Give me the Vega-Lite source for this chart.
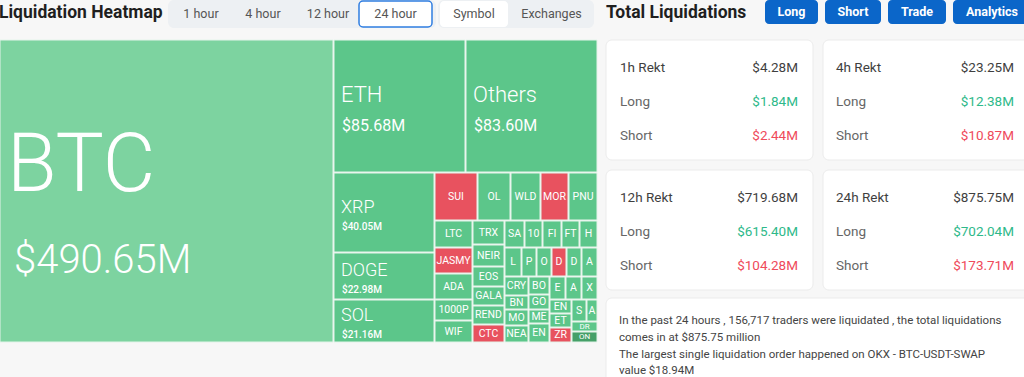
{
  "$schema": "https://vega.github.io/schema/vega-lite/v6.json",
  "width": 1024,
  "height": 377,
  "autosize": {"type": "none"},
  "padding": 0,
  "background": "#f7f7f7",
  "config": {"view": {"stroke": null}, "font": "Roboto"},
  "datasets": {
    "tiles": [
      {"sym": "BTC", "val": "$490.65M", "tone": "light", "cls": "btc", "x0": 0, "x1": 333, "y0": 40, "y1": 342},
      {"sym": "ETH", "val": "$85.68M", "tone": "green", "cls": "mid", "x0": 334, "x1": 465, "y0": 40, "y1": 172},
      {"sym": "Others", "val": "$83.60M", "tone": "green", "cls": "mid", "x0": 466, "x1": 597, "y0": 40, "y1": 172},
      {"sym": "XRP", "val": "$40.05M", "tone": "green", "cls": "lg", "x0": 334, "x1": 434, "y0": 173, "y1": 252},
      {"sym": "DOGE", "val": "$22.98M", "tone": "green", "cls": "lg", "x0": 334, "x1": 434, "y0": 253, "y1": 299},
      {"sym": "SOL", "val": "$21.16M", "tone": "green", "cls": "lg", "x0": 334, "x1": 434, "y0": 300, "y1": 342},
      {"sym": "SUI", "val": "", "tone": "red", "cls": "sm", "x0": 435, "x1": 477, "y0": 173, "y1": 220},
      {"sym": "OL", "val": "", "tone": "green", "cls": "sm", "x0": 478, "x1": 510, "y0": 173, "y1": 220},
      {"sym": "WLD", "val": "", "tone": "green", "cls": "sm", "x0": 511, "x1": 540, "y0": 173, "y1": 220},
      {"sym": "MOR", "val": "", "tone": "red", "cls": "sm", "x0": 541, "x1": 568, "y0": 173, "y1": 220},
      {"sym": "PNU", "val": "", "tone": "green", "cls": "sm", "x0": 569, "x1": 597, "y0": 173, "y1": 220},
      {"sym": "LTC", "val": "", "tone": "green", "cls": "sm", "x0": 435, "x1": 472, "y0": 221, "y1": 247},
      {"sym": "JASMY", "val": "", "tone": "red", "cls": "sm", "x0": 435, "x1": 472, "y0": 248, "y1": 273},
      {"sym": "ADA", "val": "", "tone": "green", "cls": "sm", "x0": 435, "x1": 472, "y0": 274, "y1": 299},
      {"sym": "1000P", "val": "", "tone": "green", "cls": "sm", "x0": 435, "x1": 472, "y0": 300, "y1": 320},
      {"sym": "WIF", "val": "", "tone": "green", "cls": "sm", "x0": 435, "x1": 472, "y0": 321, "y1": 342},
      {"sym": "TRX", "val": "", "tone": "green", "cls": "sm", "x0": 473, "x1": 504, "y0": 221, "y1": 244},
      {"sym": "NEIR", "val": "", "tone": "green", "cls": "sm", "x0": 473, "x1": 504, "y0": 245, "y1": 266},
      {"sym": "EOS", "val": "", "tone": "green", "cls": "sm", "x0": 473, "x1": 504, "y0": 267, "y1": 286},
      {"sym": "GALA", "val": "", "tone": "green", "cls": "sm", "x0": 473, "x1": 504, "y0": 287, "y1": 305},
      {"sym": "REND", "val": "", "tone": "green", "cls": "sm", "x0": 473, "x1": 504, "y0": 306, "y1": 324},
      {"sym": "CTC", "val": "", "tone": "red", "cls": "sm", "x0": 473, "x1": 504, "y0": 325, "y1": 342},
      {"sym": "SA", "val": "", "tone": "green", "cls": "sm", "x0": 505, "x1": 524, "y0": 221, "y1": 247},
      {"sym": "10", "val": "", "tone": "green", "cls": "sm", "x0": 525, "x1": 542, "y0": 221, "y1": 247},
      {"sym": "FI", "val": "", "tone": "green", "cls": "sm", "x0": 543, "x1": 561, "y0": 221, "y1": 247},
      {"sym": "FT", "val": "", "tone": "green", "cls": "sm", "x0": 562, "x1": 579, "y0": 221, "y1": 247},
      {"sym": "H", "val": "", "tone": "green", "cls": "sm", "x0": 580, "x1": 597, "y0": 221, "y1": 247},
      {"sym": "L", "val": "", "tone": "green", "cls": "sm", "x0": 505, "x1": 521, "y0": 248, "y1": 276},
      {"sym": "P", "val": "", "tone": "green", "cls": "sm", "x0": 522, "x1": 536, "y0": 248, "y1": 276},
      {"sym": "O", "val": "", "tone": "green", "cls": "sm", "x0": 537, "x1": 551, "y0": 248, "y1": 276},
      {"sym": "D", "val": "", "tone": "red", "cls": "sm", "x0": 552, "x1": 566, "y0": 248, "y1": 276},
      {"sym": "D", "val": "", "tone": "green", "cls": "sm", "x0": 567, "x1": 581, "y0": 248, "y1": 276},
      {"sym": "A", "val": "", "tone": "green", "cls": "sm", "x0": 582, "x1": 597, "y0": 248, "y1": 276},
      {"sym": "CRY", "val": "", "tone": "green", "cls": "sm", "x0": 505, "x1": 528, "y0": 277, "y1": 295},
      {"sym": "BN", "val": "", "tone": "green", "cls": "sm", "x0": 505, "x1": 528, "y0": 296, "y1": 309},
      {"sym": "MO", "val": "", "tone": "green", "cls": "sm", "x0": 505, "x1": 528, "y0": 310, "y1": 325},
      {"sym": "NEA", "val": "", "tone": "green", "cls": "sm", "x0": 505, "x1": 528, "y0": 326, "y1": 342},
      {"sym": "BO", "val": "", "tone": "green", "cls": "sm", "x0": 529, "x1": 549, "y0": 277, "y1": 294},
      {"sym": "GO", "val": "", "tone": "green", "cls": "sm", "x0": 529, "x1": 549, "y0": 295, "y1": 309},
      {"sym": "ME", "val": "", "tone": "green", "cls": "sm", "x0": 529, "x1": 549, "y0": 310, "y1": 323},
      {"sym": "EN", "val": "", "tone": "green", "cls": "sm", "x0": 529, "x1": 549, "y0": 324, "y1": 342},
      {"sym": "E", "val": "", "tone": "green", "cls": "sm", "x0": 550, "x1": 565, "y0": 277, "y1": 299},
      {"sym": "A", "val": "", "tone": "green", "cls": "sm", "x0": 566, "x1": 581, "y0": 277, "y1": 299},
      {"sym": "X", "val": "", "tone": "green", "cls": "sm", "x0": 582, "x1": 597, "y0": 277, "y1": 299},
      {"sym": "EN", "val": "", "tone": "green", "cls": "sm", "x0": 550, "x1": 571, "y0": 300, "y1": 313},
      {"sym": "ET", "val": "", "tone": "green", "cls": "sm", "x0": 550, "x1": 571, "y0": 314, "y1": 327},
      {"sym": "ZR", "val": "", "tone": "red", "cls": "sm", "x0": 550, "x1": 571, "y0": 328, "y1": 342},
      {"sym": "S", "val": "", "tone": "green", "cls": "sm", "x0": 572, "x1": 586, "y0": 300, "y1": 321},
      {"sym": "A", "val": "", "tone": "green", "cls": "sm", "x0": 587, "x1": 597, "y0": 300, "y1": 321},
      {"sym": "DR", "val": "", "tone": "green", "cls": "xs", "x0": 572, "x1": 597, "y0": 322, "y1": 331},
      {"sym": "ON", "val": "", "tone": "dark", "cls": "xs", "x0": 572, "x1": 597, "y0": 332, "y1": 342}
    ],
    "panels": [
      {"kind": "group", "x0": 168, "x1": 436, "y0": 0, "y1": 28},
      {"kind": "group", "x0": 438, "x1": 594, "y0": 0, "y1": 28},
      {"kind": "card", "x0": 606, "x1": 813, "y0": 40, "y1": 160},
      {"kind": "card", "x0": 823, "x1": 1034, "y0": 40, "y1": 160},
      {"kind": "card", "x0": 606, "x1": 813, "y0": 170, "y1": 290},
      {"kind": "card", "x0": 823, "x1": 1034, "y0": 170, "y1": 290},
      {"kind": "card", "x0": 606, "x1": 1034, "y0": 298, "y1": 400}
    ],
    "buttons": [
      {"label": "1 hour", "state": "plain", "x0": 176, "x1": 226, "y0": 1, "y1": 27},
      {"label": "4 hour", "state": "plain", "x0": 238, "x1": 288, "y0": 1, "y1": 27},
      {"label": "12 hour", "state": "plain", "x0": 300, "x1": 356, "y0": 1, "y1": 27},
      {"label": "24 hour", "state": "outline", "x0": 359, "x1": 432, "y0": 1, "y1": 27},
      {"label": "Symbol", "state": "white", "x0": 440, "x1": 508, "y0": 1, "y1": 27},
      {"label": "Exchanges", "state": "plain", "x0": 515, "x1": 588, "y0": 1, "y1": 27},
      {"label": "Long", "state": "primary", "x0": 765, "x1": 818, "y0": 0, "y1": 24},
      {"label": "Short", "state": "primary", "x0": 825, "x1": 881, "y0": 0, "y1": 24},
      {"label": "Trade", "state": "primary", "x0": 888, "x1": 946, "y0": 0, "y1": 24},
      {"label": "Analytics", "state": "primary", "x0": 953, "x1": 1031, "y0": 0, "y1": 24}
    ],
    "headings": [
      {"txt": "Liquidation Heatmap", "x0": -1, "yb": 18},
      {"txt": "Total Liquidations", "x0": 606, "yb": 18}
    ],
    "cards": [
      {"period": "1h Rekt", "total": "$4.28M", "long": "$1.84M", "short": "$2.44M", "col": 0, "row": 0},
      {"period": "4h Rekt", "total": "$23.25M", "long": "$12.38M", "short": "$10.87M", "col": 1, "row": 0},
      {"period": "12h Rekt", "total": "$719.68M", "long": "$615.40M", "short": "$104.28M", "col": 0, "row": 1},
      {"period": "24h Rekt", "total": "$875.75M", "long": "$702.04M", "short": "$173.71M", "col": 1, "row": 1}
    ],
    "summary": [
      {"txt": "In the past 24 hours , 156,717 traders were liquidated , the total liquidations\ncomes in at $875.75 million\nThe largest single liquidation order happened on OKX - BTC-USDT-SWAP\nvalue $18.94M", "x0": 619, "yb": 324}
    ]
  },
  "resolve": {"scale": {"x": "independent", "y": "independent"}},
  "layer": [
    {
      "layer": [
        {
          "data": {"name": "panels"},
          "transform": [{"filter": "datum.kind == 'group'"}],
          "mark": {"type": "rect", "fill": "#edf0f3", "cornerRadius": 6},
          "encoding": {
            "x": {"field": "x0", "type": "quantitative", "scale": {"domain": [0, 1024], "nice": false, "zero": false}, "axis": null},
            "x2": {"field": "x1"},
            "y": {"field": "y0", "type": "quantitative", "scale": {"domain": [0, 377], "nice": false, "zero": false, "reverse": true}, "axis": null},
            "y2": {"field": "y1"}
          }
        },
        {
          "data": {"name": "panels"},
          "transform": [{"filter": "datum.kind == 'card'"}],
          "mark": {"type": "rect", "fill": "#ffffff", "stroke": "#ebebeb", "strokeWidth": 1, "cornerRadius": 6},
          "encoding": {
            "x": {"field": "x0", "type": "quantitative", "scale": {"domain": [0, 1024], "nice": false, "zero": false}, "axis": null},
            "x2": {"field": "x1"},
            "y": {"field": "y0", "type": "quantitative", "scale": {"domain": [0, 377], "nice": false, "zero": false, "reverse": true}, "axis": null},
            "y2": {"field": "y1"}
          }
        },
        {
          "data": {"name": "buttons"},
          "transform": [{"filter": "datum.state == 'outline'"}],
          "mark": {"type": "rect", "fill": "#ffffff", "stroke": "#2f7de1", "strokeWidth": 1.5, "cornerRadius": 4},
          "encoding": {
            "x": {"field": "x0", "type": "quantitative", "scale": {"domain": [0, 1024], "nice": false, "zero": false}, "axis": null},
            "x2": {"field": "x1"},
            "y": {"field": "y0", "type": "quantitative", "scale": {"domain": [0, 377], "nice": false, "zero": false, "reverse": true}, "axis": null},
            "y2": {"field": "y1"}
          }
        },
        {
          "data": {"name": "buttons"},
          "transform": [{"filter": "datum.state == 'white'"}],
          "mark": {"type": "rect", "fill": "#ffffff", "cornerRadius": 4},
          "encoding": {
            "x": {"field": "x0", "type": "quantitative", "scale": {"domain": [0, 1024], "nice": false, "zero": false}, "axis": null},
            "x2": {"field": "x1"},
            "y": {"field": "y0", "type": "quantitative", "scale": {"domain": [0, 377], "nice": false, "zero": false, "reverse": true}, "axis": null},
            "y2": {"field": "y1"}
          }
        },
        {
          "data": {"name": "buttons"},
          "transform": [{"filter": "datum.state == 'primary'"}],
          "mark": {"type": "rect", "fill": "#0b66c9", "cornerRadius": 4},
          "encoding": {
            "x": {"field": "x0", "type": "quantitative", "scale": {"domain": [0, 1024], "nice": false, "zero": false}, "axis": null},
            "x2": {"field": "x1"},
            "y": {"field": "y0", "type": "quantitative", "scale": {"domain": [0, 377], "nice": false, "zero": false, "reverse": true}, "axis": null},
            "y2": {"field": "y1"}
          }
        },
        {
          "data": {"name": "buttons"},
          "transform": [{"filter": "datum.state != 'primary'"}, {"calculate": "(datum.x0 + datum.x1) / 2", "as": "cx"}, {"calculate": "(datum.y0 + datum.y1) / 2", "as": "cy"}],
          "mark": {"type": "text", "fontSize": 12.5, "color": "#555555", "align": "center", "baseline": "middle"},
          "encoding": {
            "x": {"field": "cx", "type": "quantitative", "scale": {"domain": [0, 1024], "nice": false, "zero": false}, "axis": null},
            "y": {"field": "cy", "type": "quantitative", "scale": {"domain": [0, 377], "nice": false, "zero": false, "reverse": true}, "axis": null},
            "text": {"field": "label"}
          }
        },
        {
          "data": {"name": "buttons"},
          "transform": [{"filter": "datum.state == 'primary'"}, {"calculate": "(datum.x0 + datum.x1) / 2", "as": "cx"}, {"calculate": "(datum.y0 + datum.y1) / 2", "as": "cy"}],
          "mark": {"type": "text", "fontSize": 12.5, "fontWeight": "bold", "color": "#ffffff", "align": "center", "baseline": "middle"},
          "encoding": {
            "x": {"field": "cx", "type": "quantitative", "scale": {"domain": [0, 1024], "nice": false, "zero": false}, "axis": null},
            "y": {"field": "cy", "type": "quantitative", "scale": {"domain": [0, 377], "nice": false, "zero": false, "reverse": true}, "axis": null},
            "text": {"field": "label"}
          }
        },
        {
          "data": {"name": "headings"},
          "mark": {"type": "text", "fontSize": 17.5, "fontWeight": "bold", "color": "#1f1f1f", "align": "left", "baseline": "alphabetic"},
          "encoding": {
            "x": {"field": "x0", "type": "quantitative", "scale": {"domain": [0, 1024], "nice": false, "zero": false}, "axis": null},
            "y": {"field": "yb", "type": "quantitative", "scale": {"domain": [0, 377], "nice": false, "zero": false, "reverse": true}, "axis": null},
            "text": {"field": "txt"}
          }
        },
        {
          "data": {"name": "tiles"},
          "mark": {"type": "rect", "stroke": "#e4f4ea", "strokeWidth": 1},
          "encoding": {
            "x": {"field": "x0", "type": "quantitative", "scale": {"domain": [0, 1024], "nice": false, "zero": false}, "axis": null},
            "x2": {"field": "x1"},
            "y": {"field": "y0", "type": "quantitative", "scale": {"domain": [0, 377], "nice": false, "zero": false, "reverse": true}, "axis": null},
            "y2": {"field": "y1"},
            "color": {"field": "tone", "type": "nominal", "scale": {"domain": ["light", "green", "red", "dark"], "range": ["#7dd3a0", "#5cc68a", "#e8525f", "#45a068"]}, "legend": null},
            "tooltip": [{"field": "sym"}, {"field": "val"}]
          }
        },
        {
          "data": {"name": "tiles"},
          "transform": [{"filter": "datum.cls == 'sm'"}, {"calculate": "(datum.x0 + datum.x1) / 2", "as": "cx"}, {"calculate": "(datum.y0 + datum.y1) / 2", "as": "cy"}],
          "mark": {"type": "text", "fontSize": 10.5, "color": "#ffffff", "align": "center", "baseline": "middle"},
          "encoding": {
            "x": {"field": "cx", "type": "quantitative", "scale": {"domain": [0, 1024], "nice": false, "zero": false}, "axis": null},
            "y": {"field": "cy", "type": "quantitative", "scale": {"domain": [0, 377], "nice": false, "zero": false, "reverse": true}, "axis": null},
            "text": {"field": "sym"}
          }
        },
        {
          "data": {"name": "tiles"},
          "transform": [{"filter": "datum.cls == 'xs'"}, {"calculate": "(datum.x0 + datum.x1) / 2", "as": "cx"}, {"calculate": "(datum.y0 + datum.y1) / 2", "as": "cy"}],
          "mark": {"type": "text", "fontSize": 8, "color": "#ffffff", "align": "center", "baseline": "middle"},
          "encoding": {
            "x": {"field": "cx", "type": "quantitative", "scale": {"domain": [0, 1024], "nice": false, "zero": false}, "axis": null},
            "y": {"field": "cy", "type": "quantitative", "scale": {"domain": [0, 377], "nice": false, "zero": false, "reverse": true}, "axis": null},
            "text": {"field": "sym"}
          }
        },
        {
          "data": {"name": "tiles"},
          "transform": [{"filter": "datum.cls == 'btc'"}, {"calculate": "(datum.y0 + datum.y1) / 2", "as": "cy"}],
          "mark": {"type": "text", "fontSize": 81, "fontWeight": 300, "color": "#ffffff", "align": "left", "baseline": "alphabetic", "dx": 7, "dy": 0},
          "encoding": {
            "x": {"field": "x0", "type": "quantitative", "scale": {"domain": [0, 1024], "nice": false, "zero": false}, "axis": null},
            "y": {"field": "cy", "type": "quantitative", "scale": {"domain": [0, 377], "nice": false, "zero": false, "reverse": true}, "axis": null},
            "text": {"field": "sym"}
          }
        },
        {
          "data": {"name": "tiles"},
          "transform": [{"filter": "datum.cls == 'btc'"}, {"calculate": "(datum.y0 + datum.y1) / 2", "as": "cy"}],
          "mark": {"type": "text", "fontSize": 40, "fontWeight": 300, "color": "#ffffff", "align": "left", "baseline": "alphabetic", "dx": 14, "dy": 82},
          "encoding": {
            "x": {"field": "x0", "type": "quantitative", "scale": {"domain": [0, 1024], "nice": false, "zero": false}, "axis": null},
            "y": {"field": "cy", "type": "quantitative", "scale": {"domain": [0, 377], "nice": false, "zero": false, "reverse": true}, "axis": null},
            "text": {"field": "val"}
          }
        },
        {
          "data": {"name": "tiles"},
          "transform": [{"filter": "datum.cls == 'mid'"}, {"calculate": "(datum.y0 + datum.y1) / 2", "as": "cy"}],
          "mark": {"type": "text", "fontSize": 22, "fontWeight": 300, "color": "#ffffff", "align": "left", "baseline": "alphabetic", "dx": 7, "dy": -4},
          "encoding": {
            "x": {"field": "x0", "type": "quantitative", "scale": {"domain": [0, 1024], "nice": false, "zero": false}, "axis": null},
            "y": {"field": "cy", "type": "quantitative", "scale": {"domain": [0, 377], "nice": false, "zero": false, "reverse": true}, "axis": null},
            "text": {"field": "sym"}
          }
        },
        {
          "data": {"name": "tiles"},
          "transform": [{"filter": "datum.cls == 'mid'"}, {"calculate": "(datum.y0 + datum.y1) / 2", "as": "cy"}],
          "mark": {"type": "text", "fontSize": 16, "fontWeight": 400, "color": "#ffffff", "align": "left", "baseline": "alphabetic", "dx": 8, "dy": 25},
          "encoding": {
            "x": {"field": "x0", "type": "quantitative", "scale": {"domain": [0, 1024], "nice": false, "zero": false}, "axis": null},
            "y": {"field": "cy", "type": "quantitative", "scale": {"domain": [0, 377], "nice": false, "zero": false, "reverse": true}, "axis": null},
            "text": {"field": "val"}
          }
        },
        {
          "data": {"name": "tiles"},
          "transform": [{"filter": "datum.cls == 'lg'"}, {"calculate": "(datum.y0 + datum.y1) / 2", "as": "cy"}],
          "mark": {"type": "text", "fontSize": 18, "fontWeight": 300, "color": "#ffffff", "align": "left", "baseline": "alphabetic", "dx": 7, "dy": 0},
          "encoding": {
            "x": {"field": "x0", "type": "quantitative", "scale": {"domain": [0, 1024], "nice": false, "zero": false}, "axis": null},
            "y": {"field": "cy", "type": "quantitative", "scale": {"domain": [0, 377], "nice": false, "zero": false, "reverse": true}, "axis": null},
            "text": {"field": "sym"}
          }
        },
        {
          "data": {"name": "tiles"},
          "transform": [{"filter": "datum.cls == 'lg'"}, {"calculate": "(datum.y0 + datum.y1) / 2", "as": "cy"}],
          "mark": {"type": "text", "fontSize": 10, "fontWeight": 500, "color": "#ffffff", "align": "left", "baseline": "alphabetic", "dx": 8, "dy": 17},
          "encoding": {
            "x": {"field": "x0", "type": "quantitative", "scale": {"domain": [0, 1024], "nice": false, "zero": false}, "axis": null},
            "y": {"field": "cy", "type": "quantitative", "scale": {"domain": [0, 377], "nice": false, "zero": false, "reverse": true}, "axis": null},
            "text": {"field": "val"}
          }
        },
        {
          "data": {"name": "summary"},
          "mark": {"type": "text", "fontSize": 11.5, "color": "#444444", "align": "left", "baseline": "alphabetic", "lineBreak": "\n", "lineHeight": 16.8},
          "encoding": {
            "x": {"field": "x0", "type": "quantitative", "scale": {"domain": [0, 1024], "nice": false, "zero": false}, "axis": null},
            "y": {"field": "yb", "type": "quantitative", "scale": {"domain": [0, 377], "nice": false, "zero": false, "reverse": true}, "axis": null},
            "text": {"field": "txt"}
          }
        }
      ]
    },
    {
      "data": {"name": "cards"},
      "encoding": {
        "x": {"field": "col", "type": "quantitative", "scale": {"domain": [0, 1], "range": [620, 836], "nice": false, "zero": false}, "axis": null},
        "y": {"field": "row", "type": "quantitative", "scale": {"domain": [0, 1], "range": [68, 198], "nice": false, "zero": false}, "axis": null}
      },
      "layer": [
        {
          "mark": {"type": "text", "fontSize": 13.5, "fontWeight": 400, "color": "#3f3f3f", "align": "left", "baseline": "middle"},
          "encoding": {"text": {"field": "period"}}
        },
        {
          "mark": {"type": "text", "fontSize": 13.5, "fontWeight": 400, "color": "#3f3f3f", "align": "right", "baseline": "middle", "dx": 178},
          "encoding": {"text": {"field": "total"}}
        },
        {
          "mark": {"type": "text", "fontSize": 13.5, "color": "#666666", "align": "left", "baseline": "middle", "dy": 34},
          "encoding": {"text": {"value": "Long"}}
        },
        {
          "mark": {"type": "text", "fontSize": 13.5, "color": "#2eb98a", "align": "right", "baseline": "middle", "dx": 178, "dy": 34},
          "encoding": {"text": {"field": "long"}}
        },
        {
          "mark": {"type": "text", "fontSize": 13.5, "color": "#666666", "align": "left", "baseline": "middle", "dy": 68},
          "encoding": {"text": {"value": "Short"}}
        },
        {
          "mark": {"type": "text", "fontSize": 13.5, "color": "#ef4a5b", "align": "right", "baseline": "middle", "dx": 178, "dy": 68},
          "encoding": {"text": {"field": "short"}}
        }
      ]
    }
  ]
}
